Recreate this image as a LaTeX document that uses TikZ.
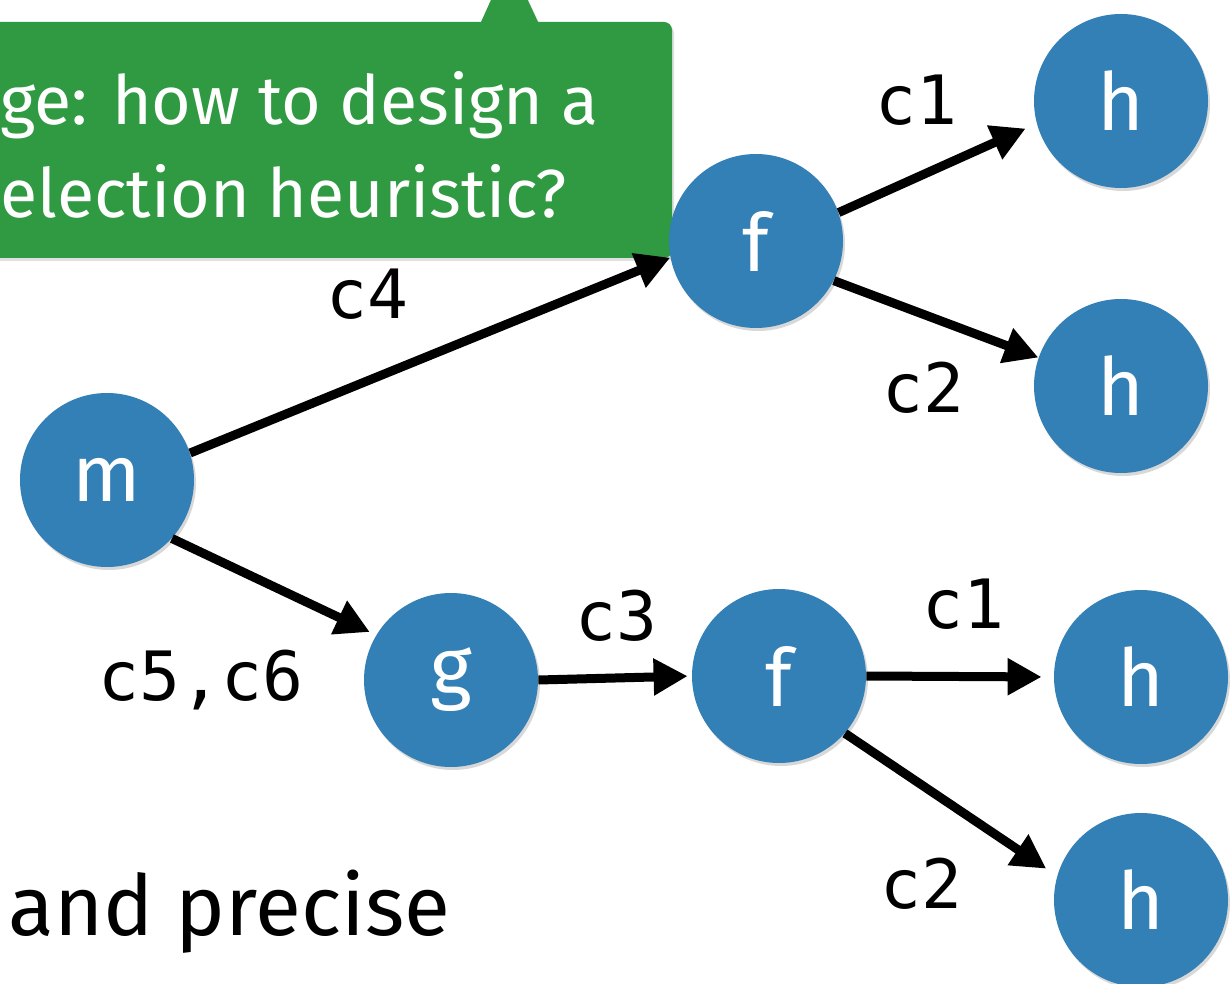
\documentclass[tikz,border=0pt]{standalone}
\usepackage{fontspec}
\setmainfont{Fira Sans}
\newfontfamily\labelfont{DejaVu Sans Mono}
\usetikzlibrary{arrows.meta,shadows}
\definecolor{nodeblue}{RGB}{50,128,181}
\definecolor{callgreen}{RGB}{47,154,65}
\begin{document}
\begin{tikzpicture}[x=0.5pt,y=-0.5pt,
  bnode/.style={circle, fill=nodeblue, minimum size=87pt, inner sep=0pt, text=white,
    font=\fontsize{40}{40}\selectfont,
    drop shadow={opacity=0.3, shadow xshift=1pt, shadow yshift=-1.5pt}},
  elabel/.style={font=\labelfont\fontsize{34}{34}\selectfont, anchor=base, inner sep=0pt},
  conn/.style={line width=4.5pt, -{Triangle[length=17pt,width=17.5pt]}},
  calltext/.style={anchor=base west, inner sep=0pt, text=white, font=\fontsize{34}{34}\selectfont},
]
\useasboundingbox (0,0) rectangle (1231,984);
\clip (0,0) rectangle (1231,984);
\fill[white] (0,0) rectangle (1231,984);

% callout
\path[fill=callgreen, drop shadow={opacity=0.25, shadow xshift=1pt, shadow yshift=-1.5pt}]
  (-40,258) -- (-40,22) -- (481,22) -- (509,-40) -- (538,22)
  {[rounded corners=4pt] -- (672,22) -- (672,258)} -- cycle;
\node[calltext] (ct1) at (0,125) {ge: how to design a};
\node[calltext] (ct2) at (0,218) {election heuristic?};

% nodes
\node[bnode] (m)  at (107,480) {m};
\node[bnode] (f1) at (756,241) {f};
\node[bnode] (h1) at (1121,101) {h};
\node[bnode] (h2) at (1121,386) {h};
\node[bnode] (g)  at (451,680) {g};
\node[bnode] (f2) at (779,676) {f};
\node[bnode] (h3) at (1141,677) {h};
\node[bnode] (h4) at (1141,900) {h};

% connectors
\draw[conn] (m.18) -- (f1.191);
\draw[conn, shorten >=3.5pt] (m.-42) -- (g.149);
\draw[conn, shorten >=2pt] (g.0) -- (f2.180);
\draw[conn, shorten >=6pt] (f1.19) -- (h1.195);
\draw[conn] (f1.-27) -- (h2.161);
\draw[conn, shorten >=6pt] (f2.0) -- (h3.180);
\draw[conn, shorten >=6.5pt] (f2.-41) -- (h4.164);

% labels
\node[elabel] (lc1a) at (916,125) {c1};
\node[elabel] (lc2a) at (923,412) {c2};
\node[elabel] (lc4)  at (367,318) {c4};
\node[elabel] (lc56) at (201,700) {c5,c6};
\node[elabel] (lc3)  at (616,640) {c3};
\node[elabel] (lc1b) at (963,628) {c1};
\node[elabel] (lc2b) at (921,908) {c2};

\node[anchor=base west, inner sep=0pt, font=\fontsize{42}{42}\selectfont] (ap) at (8,935) {and precise};
\end{tikzpicture}
\end{document}
